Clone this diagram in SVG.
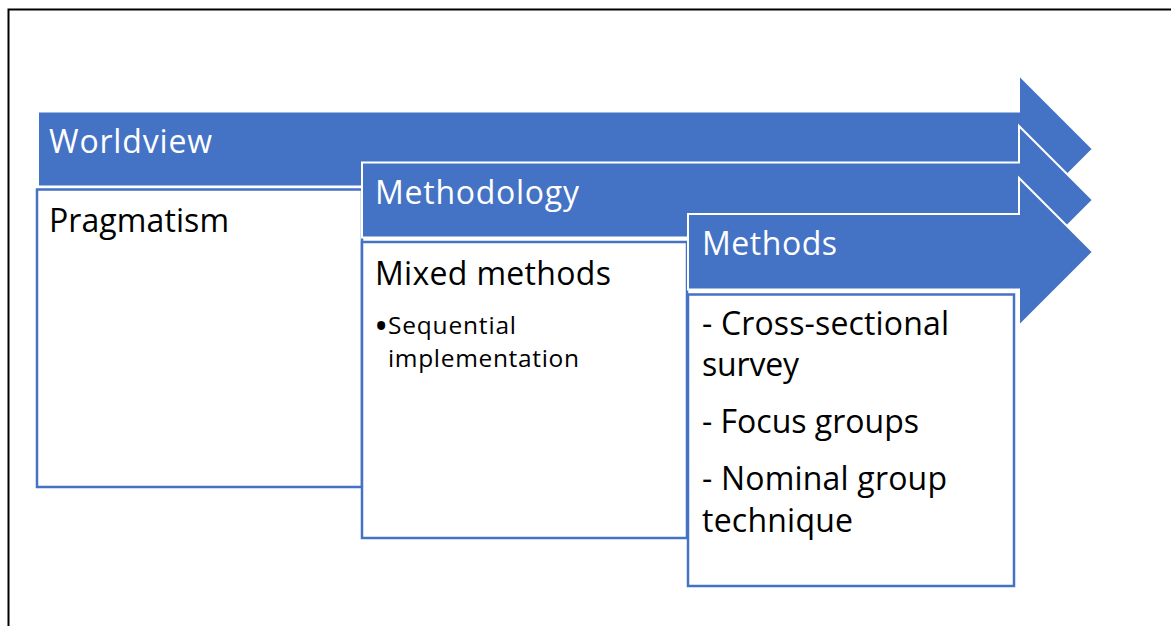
<svg xmlns="http://www.w3.org/2000/svg" width="1171" height="626" viewBox="0 0 1171 626">
<style>
.arrow{fill:#4472C4;stroke:#FFFFFF;stroke-width:2;stroke-linejoin:miter}
.box{fill:#FFFFFF;stroke:#4472C4;stroke-width:2.5}
.hd{font-family:"Open Sans","Noto Sans","Liberation Sans",sans-serif;font-size:32px;fill:#FFFFFF}
.tx{font-family:"Open Sans","Noto Sans","Liberation Sans",sans-serif;font-size:32px;fill:#000000}
.sm{font-family:"Open Sans","Noto Sans","Liberation Sans",sans-serif;font-size:24.5px;fill:#000000}
.bl{font-family:"Open Sans","Noto Sans","Liberation Sans",sans-serif;font-size:38px;fill:#000000}
</style>
<rect x="0" y="0" width="1171" height="626" fill="#FFFFFF"/>
<rect x="8.5" y="9.5" width="1200" height="700" fill="none" stroke="#000000" stroke-width="2"/>
<g id="worldview">
<polygon class="arrow" points="38,111.5 1019,111.5 1019,75 1093,149 1019,223 1019,186.5 38,186.5"/>
<text class="hd" x="49" y="153" textLength="163">Worldview</text>
</g>
<g id="pragmatism">
<rect class="box" x="37" y="189.5" width="325" height="297.5"/>
<text class="tx" x="49" y="232" textLength="180">Pragmatism</text>
</g>
<g id="methodology">
<polygon class="arrow" points="362,162.5 1019,162.5 1019,126 1093,200 1019,274 1019,237.5 362,237.5"/>
<text class="hd" x="375" y="204" textLength="204">Methodology</text>
</g>
<g id="mixed-methods">
<rect class="box" x="362" y="242" width="325" height="296"/>
<text class="tx" x="375" y="285" textLength="236">Mixed methods</text>
<text class="bl" x="374" y="340">•</text>
<text class="sm" x="388" y="334" textLength="128">Sequential</text>
<text class="sm" x="388" y="367" textLength="191">implementation</text>
</g>
<g id="methods">
<polygon class="arrow" points="688,214 1019,214 1019,178 1093,252 1019,326 1019,289.5 688,289.5"/>
<text class="hd" x="702" y="255" textLength="135">Methods</text>
</g>
<g id="methods-list">
<rect class="box" x="688" y="294.5" width="326" height="291.5"/>
<text class="tx" x="702" y="335" textLength="247">- Cross-sectional</text>
<text class="tx" x="702" y="376" textLength="97">survey</text>
<text class="tx" x="702" y="433" textLength="217">- Focus groups</text>
<text class="tx" x="702" y="490" textLength="245">- Nominal group</text>
<text class="tx" x="702" y="532" textLength="151">technique</text>
</g>
<g id="connectors"></g>
</svg>
